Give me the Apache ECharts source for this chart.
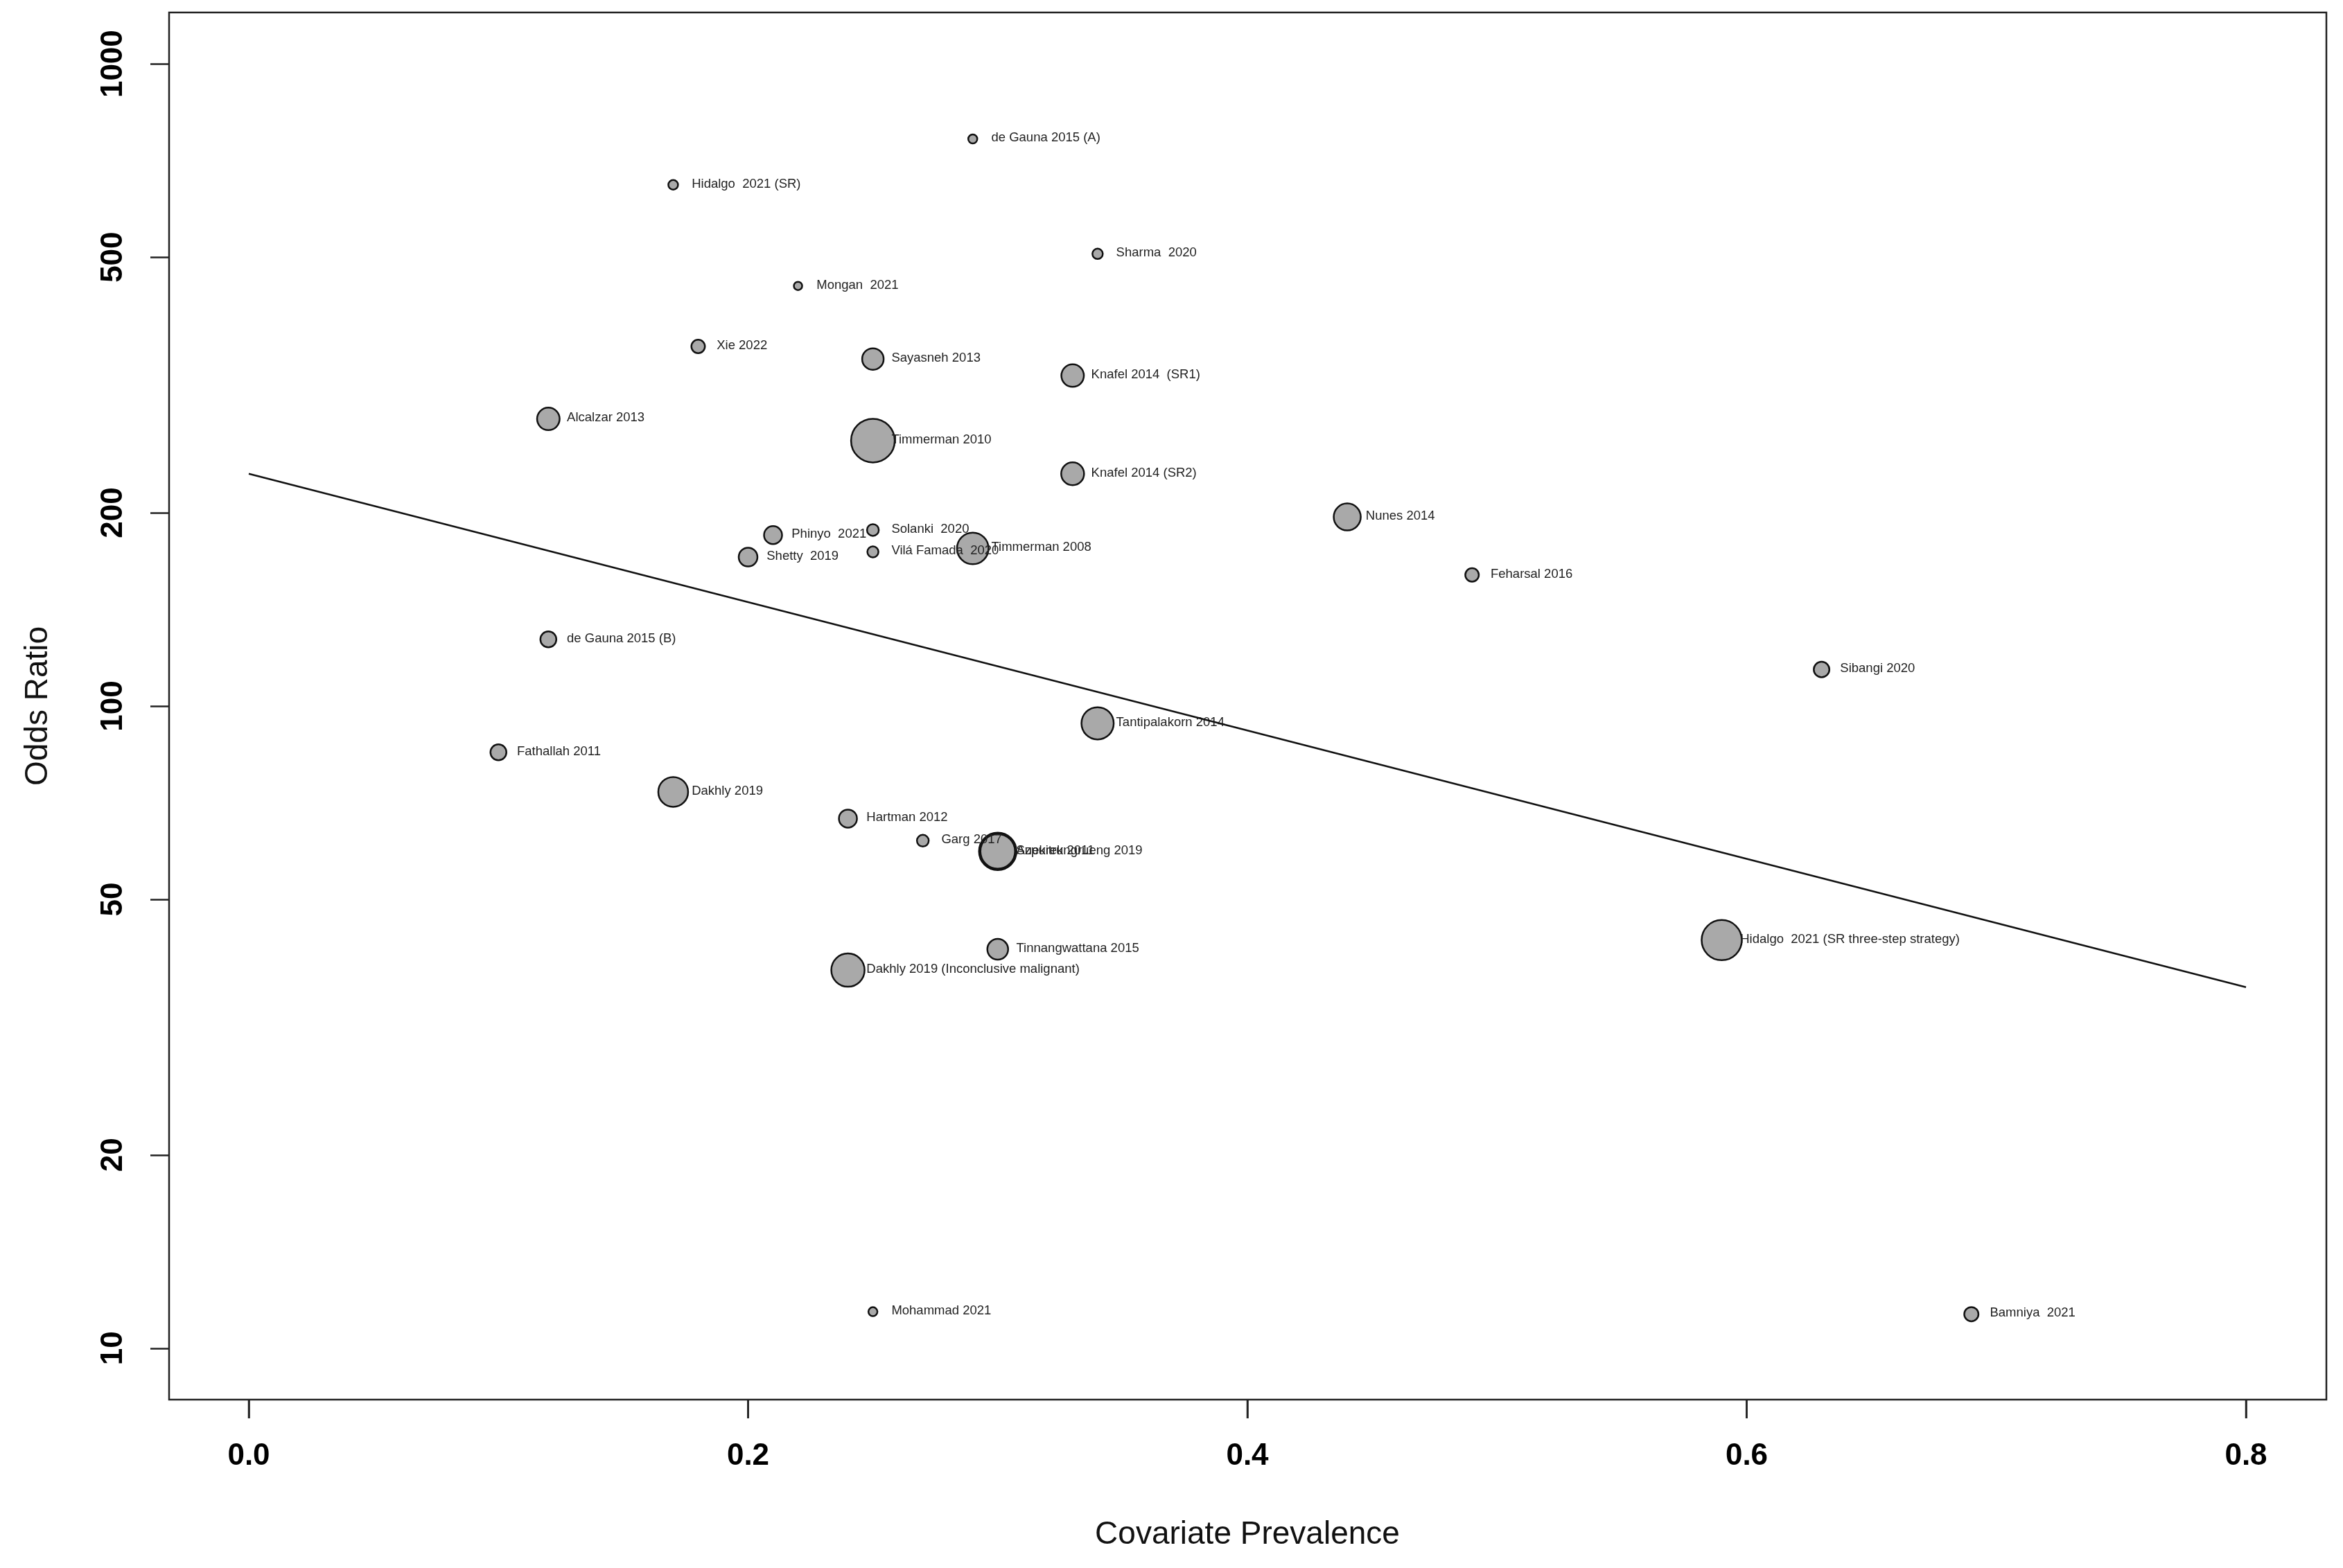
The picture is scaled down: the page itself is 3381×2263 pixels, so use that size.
<!DOCTYPE html>
<html>
<head>
<meta charset="utf-8">
<title>Odds Ratio vs Covariate Prevalence</title>
<script src="https://cdn.jsdelivr.net/npm/echarts@6/dist/echarts.min.js"></script>
<style>
  html, body { margin: 0; padding: 0; background: #fff; }
  #chart { width: 3381px; height: 2263px; }
</style>
</head>
<body>
<div id="chart"></div>
<script>
// study labels
const studies = [
  'de Gauna 2015 (A)', 'Hidalgo  2021 (SR)', 'Sharma  2020', 'Mongan  2021', 'Xie 2022',
  'Sayasneh 2013', 'Knafel 2014  (SR1)', 'Alcalzar 2013', 'Timmerman 2010', 'Knafel 2014 (SR2)',
  'Nunes 2014', 'Solanki  2020', 'Phinyo  2021', 'Timmerman 2008', 'Vilá Famada  2020',
  'Shetty  2019', 'Feharsal 2016', 'de Gauna 2015 (B)', 'Sibangi 2020', 'Tantipalakorn 2014',
  'Fathallah 2011', 'Dakhly 2019', 'Hartman 2012', 'Garg 2017', 'Auekitrungrueng 2019',
  'Szpurek 2011', 'Tinnangwattana 2015', 'Dakhly 2019 (Inconclusive malignant)',
  'Hidalgo  2021 (SR three-step strategy)', 'Mohammad 2021', 'Bamniya  2021'
]
const prevalence = [
  0.29, 0.17, 0.34, 0.22, 0.18,
  0.25, 0.33, 0.12, 0.25, 0.33,
  0.44, 0.25, 0.21, 0.29, 0.25,
  0.20, 0.49, 0.12, 0.63, 0.34,
  0.10, 0.17, 0.24, 0.27, 0.30,
  0.30, 0.30, 0.24,
  0.59, 0.25, 0.69
]
const oddsRatio = [
  764, 648, 506, 451, 363,
  347, 327, 280, 259, 230,
  197, 188, 184.6, 176, 173.8,
  170.6, 160, 127, 114, 94,
  84.7, 73.5, 66.8, 61.7, 59.4,
  59.4, 41.8, 38.8,
  43.2, 11.4, 11.3
]
// relative study weight (bubble size)
const weights = [
  1.3, 1.4, 1.5, 1.2, 1.95,
  3.1, 3.25, 3.25, 6.3, 3.3,
  3.9, 1.7, 2.6, 4.55, 1.6,
  2.7, 1.95, 2.3, 2.25, 4.65,
  2.3, 4.3, 2.6, 1.7, 5.4,
  5.0, 3.0, 4.8,
  5.8, 1.3, 2.05
]
// meta-regression line end points
const regX = [0, 0.8]
const regY = [230, 36.5]

const xTicks = [0, 0.2, 0.4, 0.6, 0.8]
const yTicks = [10, 20, 50, 100, 200, 500, 1000]

// R pads the log y range by 4 %
const yPad = 0.04 * (Math.log10(1000) - Math.log10(10))
const yMin = Math.pow(10, Math.log10(10) - yPad)
const yMax = Math.pow(10, Math.log10(1000) + yPad)

const sizeOf = w => w * 10
const labelGap = 28
const tickLen = 27

const points = studies.map((name, i) => {
  const d = sizeOf(weights[i])
  return {
    name: name,
    value: [prevalence[i], oddsRatio[i]],
    symbolSize: d,
    label: { position: [d / 2 + labelGap, d / 2] }
  }
})

const chart = echarts.init(document.getElementById('chart'))

const axisFont = {
  fontFamily: 'Liberation Sans',
  fontWeight: 'bold',
  fontSize: 44,
  color: '#000'
}
const frame = { color: '#222', width: 2.5 }

chart.setOption({
  animation: false,
  backgroundColor: '#fff',
  grid: [
    // data area spans exactly x = 0 .. 0.8
    { left: 359, right: 140, top: 18, bottom: 243, show: false },
    // outer box, R keeps 4 % slack on both sides of xlim
    {
      left: 244, right: 24, top: 18, bottom: 243,
      show: true, borderColor: frame.color, borderWidth: frame.width,
      backgroundColor: 'transparent'
    }
  ],
  xAxis: [
    {
      type: 'value',
      gridIndex: 0,
      min: 0,
      max: 0.8,
      interval: 0.2,
      name: 'Covariate Prevalence',
      nameLocation: 'middle',
      nameGap: 172,
      nameTextStyle: { fontFamily: 'Liberation Sans', fontSize: 46, color: '#111' },
      axisLine: { show: false, onZero: false },
      splitLine: { show: false },
      axisTick: { show: true, length: tickLen, lineStyle: frame },
      axisLabel: Object.assign({
        margin: 60,
        formatter: v => v.toFixed(1)
      }, axisFont)
    },
    { type: 'value', gridIndex: 1, show: false }
  ],
  yAxis: [
    {
      type: 'log',
      gridIndex: 0,
      logBase: 10,
      offset: 115,
      min: yMin,
      max: yMax,
      name: 'Odds Ratio',
      nameLocation: 'middle',
      nameRotate: 90,
      nameGap: 166,
      nameTextStyle: { fontFamily: 'Liberation Sans', fontSize: 46, color: '#111' },
      axisLine: { show: false, onZero: false },
      splitLine: { show: false },
      minorTick: { show: false },
      axisTick: { show: true, length: tickLen, customValues: yTicks, lineStyle: frame },
      axisLabel: Object.assign({
        customValues: yTicks,
        rotate: 90,
        margin: 58,
        formatter: v => String(Math.round(v))
      }, axisFont)
    },
    { type: 'value', gridIndex: 1, show: false }
  ],
  series: [
    {
      // x tick marks below the box, placed through the x scale
      type: 'custom',
      xAxisIndex: 0,
      yAxisIndex: 0,
      data: xTicks.map(v => [v]),
      silent: true,
      clip: false,
      renderItem: (params, api) => {
        const p = api.coord([api.value(0), yMin])
        return {
          type: 'line',
          shape: { x1: p[0], y1: p[1], x2: p[0], y2: p[1] + tickLen },
          style: { stroke: frame.color, lineWidth: frame.width }
        }
      }
    },
    {
      type: 'line',
      xAxisIndex: 0,
      yAxisIndex: 0,
      data: regX.map((x, i) => [x, regY[i]]),
      symbol: 'none',
      lineStyle: { color: '#111', width: 2.5 },
      silent: true,
      z: 3
    },
    {
      type: 'scatter',
      xAxisIndex: 0,
      yAxisIndex: 0,
      data: points,
      itemStyle: { color: '#a9a9a9', borderColor: '#111', borderWidth: 2.5, opacity: 1 },
      label: {
        show: true,
        formatter: '{b}',
        align: 'left',
        verticalAlign: 'middle',
        fontFamily: 'Liberation Sans',
        fontSize: 18.5,
        color: '#222'
      },
      emphasis: { disabled: true },
      z: 2
    }
  ]
})
</script>
</body>
</html>
